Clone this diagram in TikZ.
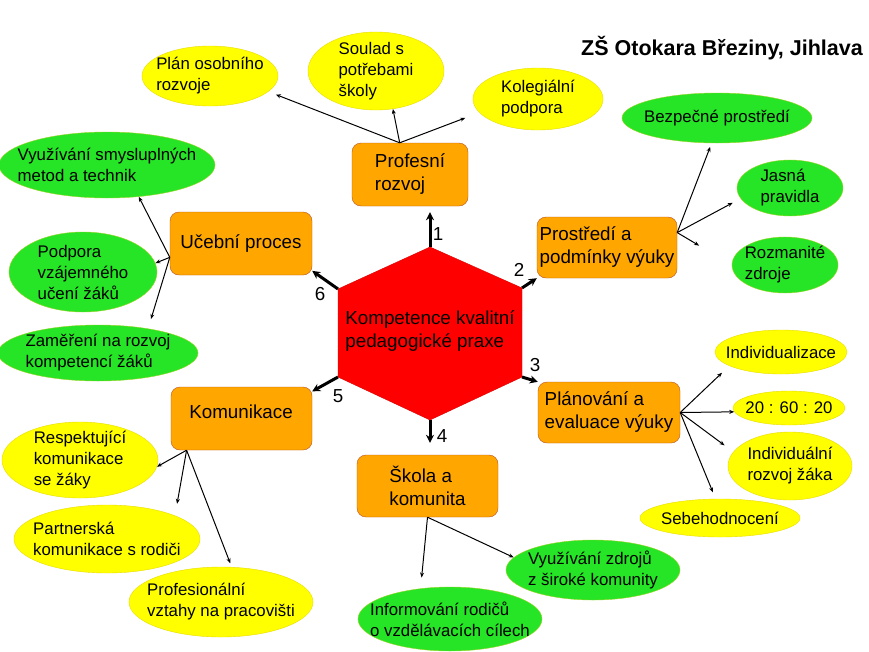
\documentclass[tikz,border=0pt]{standalone}
\usepackage{fontspec}
\setmainfont{Liberation Sans}
\usetikzlibrary{shapes.geometric,arrows.meta}

\definecolor{boxorange}{RGB}{255,167,0}
\definecolor{boxedge}{RGB}{185,80,30}
\definecolor{leafyellow}{RGB}{255,255,0}
\definecolor{leafgreen}{RGB}{38,228,38}
\definecolor{hexred}{RGB}{255,0,0}

\begin{document}
\begin{tikzpicture}[x=1pt,y=-1pt,
  topic/.style={draw=boxedge, fill=boxorange, rounded corners=9pt, inner sep=0pt},
  topictext/.style={align=left, inner sep=0pt, font=\fontsize{18.8}{23}\selectfont},
  ylw/.style={ellipse, draw=yellow!80!olive, fill=leafyellow, inner sep=0pt},
  grn/.style={ellipse, draw=yellow!60!green, fill=leafgreen, inner sep=0pt},
  leaftext/.style={align=left, inner sep=0pt, font=\fontsize{16.8}{21}\selectfont},
  conn/.style={-{Stealth[length=5pt,width=4pt]}, line width=1pt},
  bigarrow/.style={-{Stealth[length=8pt,width=8pt]}, line width=3pt}]

  \useasboundingbox (0,0) rectangle (869,651);

  % Title
  \node[font=\bfseries\fontsize{21.5}{26}\selectfont] (title) at (722,48) {ZŠ Otokara Březiny, Jihlava};

  % Hexagon in the middle
  \coordinate (h1) at (430,247);
  \coordinate (h2) at (522,288);
  \coordinate (h3) at (522,377);
  \coordinate (h4) at (430,420);
  \coordinate (h5) at (338,377);
  \coordinate (h6) at (338,289);
  \filldraw[fill=hexred, draw=red!85!black] (h1) -- (h2) -- (h3) -- (h4) -- (h5) -- (h6) -- cycle;
  \node[topictext] (hex) at (430,331) {Kompetence kvalitní\\pedagogické praxe};

  % Six topics
  \node[topic, minimum width=116pt, minimum height=63pt] (pr) at (410,174.5) {};
  \node[topictext] (prt) at (pr) {Profesní\\rozvoj};
  \node[topic, minimum width=140pt, minimum height=61pt] (pp) at (607,247.5) {};
  \node[topictext] (ppt) at (pp) {Prostředí a\\podmínky výuky};
  \node[topic, minimum width=142pt, minimum height=61pt] (pl) at (609,412.5) {};
  \node[topictext] (plt) at (pl) {Plánování a\\evaluace výuky};
  \node[topic, minimum width=141pt, minimum height=62pt] (sk) at (427.5,486) {};
  \node[topictext] (skt) at (sk) {Škola a\\komunita};
  \node[topic, minimum width=141pt, minimum height=63pt] (ko) at (241.5,418.5) {};
  \node[topictext] (kot) at (241,412) {Komunikace};
  \node[topic, minimum width=142pt, minimum height=63pt] (uc) at (241,243.5) {};
  \node[topictext] (uct) at (uc) {Učební proces};

  % Thick arrows with numbers
  \draw[bigarrow, shorten >=6pt] (h1) -- (h1 |- pr.south);
  \draw[bigarrow] (h2) -- (pp.south west);
  \draw[bigarrow] (h3) -- (pl.north west);
  \draw[bigarrow, shorten >=12pt] (h4) -- (h4 |- sk.north);
  \draw[bigarrow] (h5) -- (ko.21);
  \draw[bigarrow] (h6) -- (uc.-21);
  \node[topictext] (n1) at (438,234) {1};
  \node[topictext] (n2) at (519,270) {2};
  \node[topictext] (n3) at (535,365) {3};
  \node[topictext] (n4) at (442,436) {4};
  \node[topictext] (n5) at (338,396) {5};
  \node[topictext] (n6) at (320,294) {6};

  % Leaves of Profesni rozvoj
  \node[ylw, minimum width=136pt, minimum height=60pt] (e11) at (210,76) {};
  \node[leaftext] (e11t) at (e11) {Plán osobního\\rozvoje};
  \node[ylw, minimum width=136pt, minimum height=78pt] (e12) at (376,71) {};
  \node[leaftext] (e12t) at (e12) {Soulad s\\potřebami\\školy};
  \node[ylw, minimum width=130pt, minimum height=62pt] (e13) at (538,99) {};
  \node[leaftext] (e13t) at (e13) {Kolegiální\\podpora};

  % Leaves of Prostredi
  \node[grn, minimum width=190pt, minimum height=50pt] (e21) at (717,118) {};
  \node[leaftext] (e21t) at (e21) {Bezpečné prostředí};
  \node[grn, minimum width=106pt, minimum height=56pt] (e22) at (790,188) {};
  \node[leaftext] (e22t) at (e22) {Jasná\\pravidla};
  \node[grn, minimum width=106pt, minimum height=56pt] (e23) at (785,265) {};
  \node[leaftext] (e23t) at (e23) {Rozmanité\\zdroje};

  % Leaves of Planovani
  \node[ylw, minimum width=132pt, minimum height=44pt] (e31) at (781,352) {};
  \node[leaftext] (e31t) at (e31) {Individualizace};
  \node[ylw, minimum width=112pt, minimum height=34pt] (e32) at (789,408) {};
  \node[leaftext] (e32t) at (e32) {20 : 60 : 20};
  \node[ylw, minimum width=124pt, minimum height=68pt] (e33) at (790,466) {};
  \node[leaftext] (e33t) at (e33) {Individuální\\rozvoj žáka};
  \node[ylw, minimum width=160pt, minimum height=38pt] (e34) at (720,518) {};
  \node[leaftext] (e34t) at (e34) {Sebehodnocení};

  % Leaves of Skola
  \node[grn, minimum width=184pt, minimum height=64pt] (e41) at (450,619) {};
  \node[leaftext] (e41t) at (e41) {Informování rodičů\\o vzdělávacích cílech};
  \node[grn, minimum width=174pt, minimum height=60pt] (e42) at (593,570) {};
  \node[leaftext] (e42t) at (e42) {Využívání zdrojů\\z široké komunity};

  % Leaves of Komunikace
  \node[ylw, minimum width=156pt, minimum height=76pt] (e51) at (80,460) {};
  \node[leaftext] (e51t) at (e51) {Respektující\\komunikace\\se žáky};
  \node[ylw, minimum width=186pt, minimum height=68pt] (e52) at (107,539) {};
  \node[leaftext] (e52t) at (e52) {Partnerská\\komunikace s rodiči};
  \node[ylw, minimum width=184pt, minimum height=70pt] (e53) at (221,602) {};
  \node[leaftext] (e53t) at (e53) {Profesionální\\vztahy na pracovišti};

  % Leaves of Ucebni proces
  \node[grn, minimum width=216pt, minimum height=66pt] (e61) at (107,165) {};
  \node[leaftext] (e61t) at (e61) {Využívání smysluplných\\metod a technik};
  \node[grn, minimum width=148pt, minimum height=80pt] (e62) at (83,272) {};
  \node[leaftext] (e62t) at (e62) {Podpora\\vzájemného\\učení žáků};
  \node[grn, minimum width=200pt, minimum height=56pt] (e63) at (98,353) {};
  \node[leaftext] (e63t) at (e63) {Zaměření na rozvoj\\kompetencí žáků};

  % Thin connectors
  \draw[conn, shorten >=8pt] (pr.108) -- (e11.-15);
  \draw[conn] (pr.108) -- (e12.-66);
  \draw[conn, shorten >=15pt] (pr.108) -- (e13.193);

  \draw[conn, shorten >=4pt] (pp.12) -- (e21.-102);
  \draw[conn, shorten >=9pt] (pp.12) -- (e22.192);
  \draw[conn, shorten >=38pt] (pp.12) -- (e23.west);

  \draw[conn, shorten >=10pt] (pl.east) -- (e31.195);
  \draw[conn] (pl.east) -- (e32.184);
  \draw[conn, shorten >=11pt] (pl.east) -- (e33.166);
  \draw[conn, shorten >=7pt] (pl.east) -- (e34.103);

  \draw[conn, shorten >=11pt] (sk.south) -- (e41.134);
  \draw[conn] (sk.south) -- (e42.171);

  \draw[conn] (ko.210) -- (e51.-5);
  \draw[conn, shorten >=12pt] (ko.210) -- (e52.19);
  \draw[conn, shorten >=4pt] (ko.210) -- (e53.73);

  \draw[conn] (uc.191) -- (e61.-45);
  \draw[conn] (uc.191) -- (e62.7);
  \draw[conn, shorten >=10pt] (uc.191) -- (e63.26);
\end{tikzpicture}
\end{document}
